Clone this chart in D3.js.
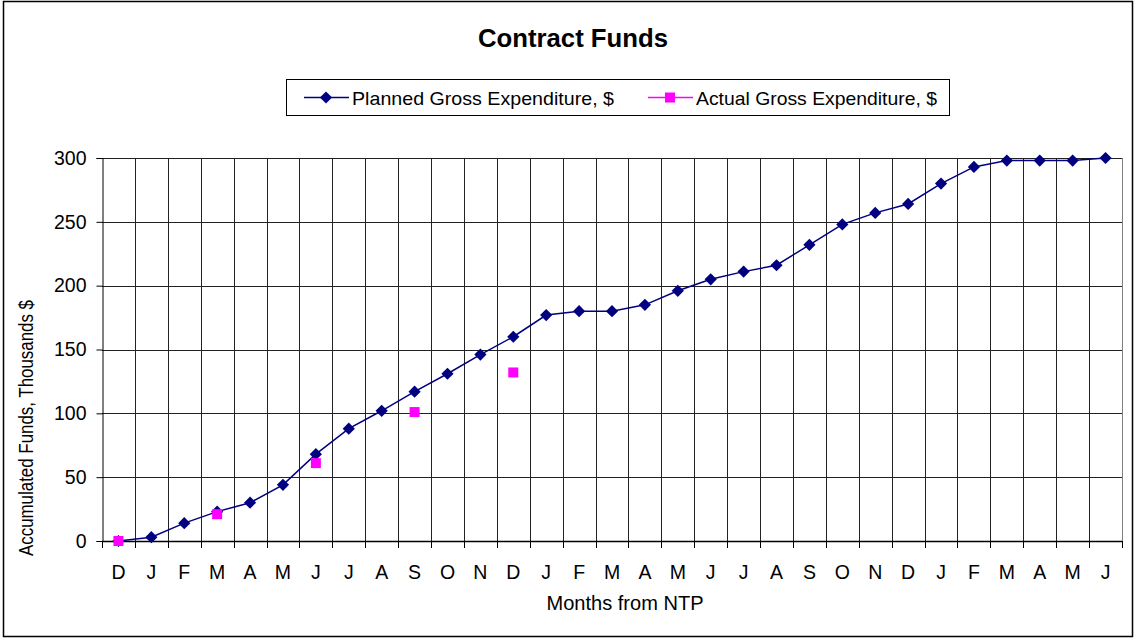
<!DOCTYPE html>
<html>
<head>
<meta charset="utf-8">
<script src="https://cdn.jsdelivr.net/npm/d3@7"></script>
<style>
  body { margin: 0; background: #fff; }
  text { font-family: "Liberation Sans", Arial, sans-serif; fill: #000; }
</style>
</head>
<body>
<div id="chart"></div>
<script>
const WIDTH = 1136, HEIGHT = 639;
const PLOT = { left: 102, right: 1122, top: 158, bottom: 541 };

// months from NTP
const months = ["D","J","F","M","A","M","J","J","A","S","O","N","D","J","F","M","A","M","J","J","A","S","O","N","D","J","F","M","A","M","J"];
// planned gross expenditure, thousands $
const planned = [0, 3, 14, 23, 30, 44, 68, 88, 102, 117, 131, 146, 160, 177, 180, 180, 185, 196, 205, 211, 216, 232, 248, 257, 264, 280, 293, 298, 298, 298, 300];
// actual gross expenditure (month index, value)
const actualIdx = [0, 3, 6, 9, 12];
const actualVal = [0, 21, 61, 101, 132];
const yTicks = [0, 50, 100, 150, 200, 250, 300];

const svg = d3.select("#chart").append("svg")
    .attr("width", WIDTH)
    .attr("height", HEIGHT)

// outer chart border
svg.append("rect")
    .attr("x", 3.5).attr("y", 1.5)
    .attr("width", 1129).attr("height", 635)
    .attr("fill", "#fff")
    .attr("stroke", "#000")
    .attr("stroke-width", 1.5)

const x = d3.scaleBand()
    .domain(d3.range(months.length))
    .range([PLOT.left, PLOT.right])
const y = d3.scaleLinear()
    .domain([0, 300])
    .range([PLOT.bottom, PLOT.top])
const cx = i => x(i) + x.bandwidth() / 2

// horizontal gridlines
svg.append("g")
    .selectAll("line")
    .data(yTicks)
    .join("line")
    .attr("x1", PLOT.left).attr("x2", PLOT.right)
    .attr("y1", d => Math.round(y(d)) + 0.5).attr("y2", d => Math.round(y(d)) + 0.5)
    .attr("stroke", "#222")

// vertical gridlines at category boundaries
const bounds = d3.range(months.length + 1).map(i => i < months.length ? x(i) : PLOT.right)
svg.append("g")
    .selectAll("line")
    .data(bounds.slice(1, -1))
    .join("line")
    .attr("x1", d => Math.round(d) + 0.5).attr("x2", d => Math.round(d) + 0.5)
    .attr("y1", PLOT.top).attr("y2", PLOT.bottom)
    .attr("stroke", "#222")

// plot area right border
svg.append("line")
    .attr("x1", PLOT.right + 0.5).attr("x2", PLOT.right + 0.5)
    .attr("y1", PLOT.top).attr("y2", PLOT.bottom)
    .attr("stroke", "#808080")

// y axis
const yAxis = svg.append("g")
    .attr("transform", `translate(${PLOT.left + 0.5},0)`)
    .call(d3.axisLeft(y).tickValues(yTicks).tickSize(6).tickPadding(10))
yAxis.select(".domain").attr("stroke", "#000")
yAxis.selectAll(".tick line").attr("stroke", "#000")
yAxis.selectAll("text").style("font-size", "19.5px").attr("font-family", "Liberation Sans, Arial, sans-serif")

// x axis: ticks at boundaries, labels at centres
const xg = svg.append("g")
svg.append("line")
    .attr("x1", PLOT.left).attr("x2", PLOT.right)
    .attr("y1", Math.round(y(0)) + 0.5).attr("y2", Math.round(y(0)) + 0.5)
    .attr("stroke", "#000").attr("stroke-width", 1.5)
xg.selectAll("line")
    .data(bounds)
    .join("line")
    .attr("x1", d => Math.round(d) + 0.5).attr("x2", d => Math.round(d) + 0.5)
    .attr("y1", PLOT.bottom).attr("y2", PLOT.bottom + 7)
    .attr("stroke", "#000")
xg.selectAll("text")
    .data(months)
    .join("text")
    .attr("x", (d, i) => cx(i))
    .attr("y", 579)
    .attr("text-anchor", "middle")
    .style("font-size", "19.5px")
    .text(d => d)

// planned line
const line = d3.line()
    .x((d, i) => cx(i))
    .y(d => y(d))
svg.append("path")
    .datum(planned)
    .attr("d", line)
    .attr("fill", "none")
    .attr("stroke", "#000080")
    .attr("stroke-width", 1.5)

const diamond = d3.symbol().type(d3.symbolDiamond2).size(95)
svg.append("g")
    .selectAll("path")
    .data(planned)
    .join("path")
    .attr("d", diamond)
    .attr("transform", (d, i) => `translate(${cx(i)},${y(d)})`)
    .attr("fill", "#000080")

// actual points
svg.append("g")
    .selectAll("rect")
    .data(actualIdx)
    .join("rect")
    .attr("x", d => cx(d) - 5)
    .attr("y", (d, i) => y(actualVal[i]) - 5)
    .attr("width", 10).attr("height", 10)
    .attr("fill", "#ff00ff")

// title
svg.append("text")
    .attr("x", 573).attr("y", 47)
    .attr("text-anchor", "middle")
    .attr("textLength", 190).attr("lengthAdjust", "spacingAndGlyphs")
    .style("font-size", "25px").style("font-weight", "bold")
    .text("Contract Funds")

// axis titles
svg.append("text")
    .attr("x", 625).attr("y", 610)
    .attr("text-anchor", "middle")
    .attr("textLength", 157).attr("lengthAdjust", "spacingAndGlyphs")
    .style("font-size", "20px")
    .text("Months from NTP")
svg.append("text")
    .attr("transform", "translate(33,428) rotate(-90)")
    .attr("text-anchor", "middle")
    .attr("textLength", 256).attr("lengthAdjust", "spacingAndGlyphs")
    .style("font-size", "21px")
    .text("Accumulated Funds, Thousands $")

// legend
const legend = svg.append("g")
legend.append("rect")
    .attr("x", 286.5).attr("y", 79.5)
    .attr("width", 663).attr("height", 36)
    .attr("fill", "#fff")
    .attr("stroke", "#000")
const legendItems = [
    { label: "Planned Gross Expenditure, $", color: "#000080", marker: "diamond", x: 304, w: 262 },
    { label: "Actual Gross Expenditure, $", color: "#ff00ff", marker: "square", x: 648, w: 241 }
]
legendItems.forEach(it => {
    legend.append("line")
        .attr("x1", it.x).attr("x2", it.x + 45)
        .attr("y1", 97.5).attr("y2", 97.5)
        .attr("stroke", it.color).attr("stroke-width", 1.5)
    if (it.marker === "diamond") {
        legend.append("path")
            .attr("d", diamond)
            .attr("transform", `translate(${it.x + 22},97.5)`)
            .attr("fill", it.color)
    } else {
        legend.append("rect")
            .attr("x", it.x + 17).attr("y", 92.5)
            .attr("width", 10).attr("height", 10)
            .attr("fill", it.color)
    }
    legend.append("text")
        .attr("x", it.x + 48).attr("y", 105)
        .attr("textLength", it.w).attr("lengthAdjust", "spacingAndGlyphs")
        .style("font-size", "19px")
        .text(it.label)
})
</script>
</body>
</html>
